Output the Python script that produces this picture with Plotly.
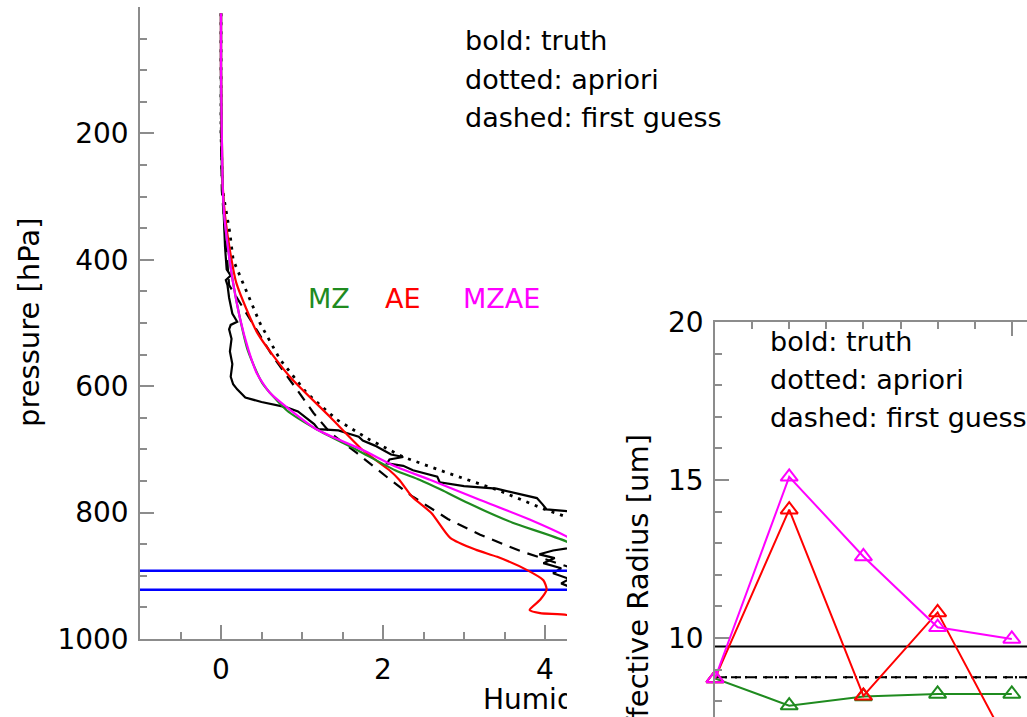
import plotly.graph_objects as go

W, H = 1027, 717
FONT = "DejaVu Sans"
AXIS_GREY = "#8c8c8c"
GREEN = "#1f8b1f"
RED = "#ff0000"
MAGENTA = "#ff00ff"
BLUE = "#0000ff"

# ---------------- humidity profiles: pressure [hPa] / humidity [g/kg] ----------------
truth_p = [10, 150, 250, 330, 380, 415, 425, 432, 440, 460, 485, 498, 503, 510, 525, 545,
           565, 585, 597, 605, 618, 625, 633, 640, 650, 660, 668, 670, 674, 680, 686, 694,
           701, 708, 712, 716, 722, 726, 733, 743, 752, 758, 762, 768, 777, 787, 795, 798,
           810, 830, 852, 860, 866, 872, 880, 888, 896, 905, 912, 920, 930, 960, 1000]
truth_q = [0.0, 0.0, 0.01, 0.03, 0.05, 0.07, 0.12, 0.06, 0.08, 0.10, 0.14, 0.20, 0.12, 0.10,
           0.13, 0.11, 0.14, 0.12, 0.15, 0.20, 0.30, 0.50, 0.80, 0.95, 1.05, 1.15, 1.20, 1.45,
           1.55, 1.70, 1.75, 1.90, 2.00, 2.10, 2.25, 2.08, 2.05, 2.25, 2.37, 2.67, 2.70, 3.00,
           3.40, 3.60, 3.90, 3.97, 4.02, 4.30, 4.70, 4.90, 4.50, 4.10, 3.93, 4.12, 3.98, 4.20,
           4.10, 4.30, 4.20, 4.35, 4.80, 5.20, 5.40]

apriori_p = [10, 100, 200, 290, 358, 400, 437, 500, 558, 611, 653, 685, 712, 737, 764, 796,
             807, 840, 880, 920, 960, 1000]
apriori_q = [0.0, 0.0, 0.0, 0.02, 0.11, 0.15, 0.27, 0.48, 0.73, 1.06, 1.43, 1.84, 2.25, 2.79,
             3.41, 4.02, 4.27, 5.00, 5.80, 6.50, 7.00, 7.50]

first_guess_p = [10, 100, 200, 290, 360, 440, 511, 553, 606, 642, 674, 706, 748, 775, 810,
                 835, 861, 885, 920, 960, 1000]
first_guess_q = [0.0, 0.0, 0.0, 0.01, 0.05, 0.10, 0.44, 0.64, 0.94, 1.14, 1.35, 1.68, 2.09,
                 2.37, 2.80, 3.20, 3.70, 4.27, 4.90, 5.50, 6.00]

mz_p = [10, 100, 200, 280, 330, 385, 437, 490, 543, 595, 638, 669, 701, 733, 748, 764, 785,
        816, 846, 900, 950, 1000]
mz_q = [0.0, 0.0, 0.01, 0.02, 0.04, 0.09, 0.15, 0.23, 0.33, 0.51, 0.81, 1.19, 1.68, 2.15,
        2.45, 2.72, 3.05, 3.60, 4.27, 5.00, 5.40, 5.60]

ae_p = [10, 100, 200, 280, 330, 385, 437, 516, 585, 649, 701, 733, 748, 775, 801, 840, 859,
        870, 891, 907, 922, 938, 954, 959, 962, 975, 1000]
ae_q = [0.0, 0.0, 0.01, 0.02, 0.05, 0.11, 0.19, 0.45, 0.85, 1.35, 1.75, 2.08, 2.20, 2.36,
        2.60, 2.83, 3.15, 3.41, 3.78, 3.98, 4.02, 3.94, 3.81, 3.94, 4.27, 4.60, 4.80]

mzae_p = [10, 100, 200, 280, 330, 385, 437, 490, 543, 579, 610, 633, 669, 701, 728, 748,
          780, 811, 838, 870, 920, 960, 1000]
mzae_q = [0.0, 0.0, 0.01, 0.02, 0.04, 0.09, 0.15, 0.23, 0.34, 0.44, 0.60, 0.81, 1.19, 1.75,
          2.17, 2.58, 3.20, 3.81, 4.27, 4.70, 5.30, 5.70, 6.00]

cloud_bounds_p = [892, 922]

# ---------------- effective radius [um] per retrieval step ----------------
steps = [0, 1, 2, 3, 4]
reff_mz = [8.72, 7.86, 8.15, 8.23, 8.23]
reff_ae = [8.72, 14.06, 8.17, 10.81, 6.40]
reff_mzae = [8.72, 15.10, 12.58, 10.34, 9.97]
reff_truth = 9.73
reff_apriori = 8.76
reff_first_guess = 8.76

legend_lines = ["bold: truth", "dotted: apriori", "dashed: first guess"]
method_labels = [("MZ", GREEN), ("AE", RED), ("MZAE", MAGENTA)]


def fx(px):
    return px / W


def fy(py):
    return 1 - py / H


# profile panel geometry (pixels) and value scales
L_LEFT, L_CLIP, L_TOP, L_BOT = 140, 567, 7, 639
Q_MIN = -1.0
Q_PER_PX = 4.0 / 324.0
q_clip = Q_MIN + (L_CLIP - L_LEFT) * Q_PER_PX
q_frame = Q_MIN + (W - L_LEFT) * Q_PER_PX
P_PER_PX = 1000.0 / (L_BOT - L_TOP)

# radius panel geometry
R_LEFT, R_TOP = 715, 322
R_PX_PER_UNIT_X = 74.2
R_PX_PER_UNIT_Y = 31.6
r_x_max = (W - R_LEFT) / R_PX_PER_UNIT_X
r_y_min = 20 - (H - R_TOP) / R_PX_PER_UNIT_Y

fig = go.Figure()

line_w = 2.2
prof = dict(xaxis="x", yaxis="y", mode="lines", showlegend=False, hoverinfo="skip")
fig.add_trace(go.Scatter(x=apriori_q, y=apriori_p,
                         line=dict(color="black", width=2.8, dash="3px,6px"), **prof))
fig.add_trace(go.Scatter(x=first_guess_q, y=first_guess_p,
                         line=dict(color="black", width=2.2, dash="11px,8px"), **prof))
fig.add_trace(go.Scatter(x=truth_q, y=truth_p, line=dict(color="black", width=line_w), **prof))
for bound in cloud_bounds_p:
    fig.add_trace(go.Scatter(x=[Q_MIN, q_frame], y=[bound, bound],
                             line=dict(color=BLUE, width=2.4), **prof))
fig.add_trace(go.Scatter(x=ae_q, y=ae_p, line=dict(color=RED, width=line_w, shape="spline",
                                                   smoothing=0.6), **prof))
fig.add_trace(go.Scatter(x=mz_q, y=mz_p, line=dict(color=GREEN, width=line_w, shape="spline",
                                                   smoothing=0.6), **prof))
fig.add_trace(go.Scatter(x=mzae_q, y=mzae_p, line=dict(color=MAGENTA, width=line_w,
                                                       shape="spline", smoothing=0.6), **prof))

# x-axis title of the profile panel, clipped at the panel edge
title_q = (Q_MIN + q_frame) / 2 + 9 * Q_PER_PX
fig.add_trace(go.Scatter(x=[title_q], y=[15], xaxis="x4", yaxis="y4",
                         mode="text", text=["Humidity [g/kg]"], textposition="middle center",
                         textfont=dict(family=FONT, size=28, color="black"),
                         cliponaxis=True, showlegend=False, hoverinfo="skip"))

# radius panel
rad = dict(xaxis="x2", yaxis="y2", showlegend=False, hoverinfo="skip", cliponaxis=False)
fig.add_trace(go.Scatter(x=[0, r_x_max + 1], y=[reff_truth] * 2, mode="lines",
                         line=dict(color="black", width=2), **rad))
fig.add_trace(go.Scatter(x=[0, r_x_max + 1], y=[reff_apriori] * 2, mode="lines",
                         line=dict(color="black", width=2.4, dash="2px,8px"), **rad))
fig.add_trace(go.Scatter(x=[0, r_x_max + 1], y=[reff_first_guess] * 2, mode="lines",
                         line=dict(color="black", width=2, dash="10px,6px"), **rad))
for vals, col in [(reff_mz, GREEN), (reff_ae, RED), (reff_mzae, MAGENTA)]:
    fig.add_trace(go.Scatter(x=steps, y=vals, mode="lines+markers",
                             line=dict(color=col, width=2),
                             marker=dict(symbol="triangle-up-open", size=15, color=col,
                                         line=dict(width=2, color=col)), **rad))

tickfont = dict(family=FONT, size=28, color="black")
common = dict(showgrid=False, zeroline=False, showline=True, linecolor=AXIS_GREY, linewidth=1.5,
              ticks="inside", tickcolor=AXIS_GREY, tickwidth=1.5, ticklen=14, tickfont=tickfont,
              automargin=False)


def minor(d):
    return dict(ticks="inside", dtick=d, tick0=0, ticklen=7, tickcolor=AXIS_GREY,
                tickwidth=1.5, showgrid=False)


fig.update_layout(
    width=W, height=H, margin=dict(l=0, r=0, t=0, b=0, autoexpand=False),
    paper_bgcolor="white", plot_bgcolor="rgba(0,0,0,0)", showlegend=False,
    xaxis=dict(domain=[fx(L_LEFT), fx(L_CLIP)], range=[Q_MIN, q_clip], anchor="y",
               dtick=2, tick0=0, minor=minor(0.5), ticklabelstandoff=5, **common),
    yaxis=dict(domain=[fy(L_BOT), fy(L_TOP)], range=[1000, 0], anchor="x",
               tickvals=[200, 400, 600, 800, 1000], minor=minor(50),
               ticklabelstandoff=4, **common),
    xaxis3=dict(domain=[fx(L_LEFT), 1], range=[Q_MIN, q_frame], anchor="y3", side="top",
                dtick=2, tick0=0, minor=minor(0.5), showticklabels=False, **common),
    yaxis3=dict(domain=[fy(285), fy(L_TOP)], range=[(285 - L_TOP) * P_PER_PX, 0], anchor="x3",
                side="right", dtick=200, tick0=0, minor=minor(50), showticklabels=False,
                **{**common, "showline": False}),
    xaxis4=dict(domain=[fx(L_LEFT), fx(L_CLIP)], range=[Q_MIN, q_clip], anchor="y4",
                visible=False, automargin=False),
    yaxis4=dict(domain=[0, fy(L_BOT)], range=[0, H - L_BOT], anchor="x4", visible=False,
                automargin=False),
    xaxis2=dict(domain=[fx(R_LEFT), 1], range=[0, r_x_max], anchor="y2", side="top",
                dtick=4, tick0=0, minor=minor(0.5), showticklabels=False, **common),
    yaxis2=dict(domain=[0, fy(R_TOP)], range=[r_y_min, 20], anchor="x2",
                dtick=5, tick0=0, minor=minor(1), ticklabelstandoff=4, **common),
)

ann_font = dict(family=FONT, size=27, color="black")
annotations = []
for i, txt in enumerate(legend_lines):
    annotations.append(dict(text=txt, x=fx(463), y=fy(41 + 38 * i), xref="paper", yref="paper",
                            xanchor="left", yanchor="middle", showarrow=False, font=ann_font))
    annotations.append(dict(text=txt, x=fx(768), y=fy(341 + 38 * i), xref="paper", yref="paper",
                            xanchor="left", yanchor="middle", showarrow=False, font=ann_font))
for (txt, col), xpos in zip(method_labels, [306, 383, 461]):
    annotations.append(dict(text=txt, x=fx(xpos), y=fy(299), xref="paper", yref="paper",
                            xanchor="left", yanchor="middle", showarrow=False,
                            font=dict(family=FONT, size=27, color=col)))
annotations.append(dict(text="pressure [hPa]", x=fx(29), y=fy((L_TOP + L_BOT) / 2),
                        xref="paper", yref="paper", xanchor="center", yanchor="middle",
                        textangle=-90, showarrow=False,
                        font=dict(family=FONT, size=29, color="black")))
annotations.append(dict(text="Effective Radius [um]", x=fx(637), y=fy(433),
                        xref="paper", yref="paper", xanchor="center", yanchor="top",
                        textangle=-90, showarrow=False,
                        font=dict(family=FONT, size=29, color="black")))
fig.update_layout(annotations=annotations)

fig.write_html("out.html")
